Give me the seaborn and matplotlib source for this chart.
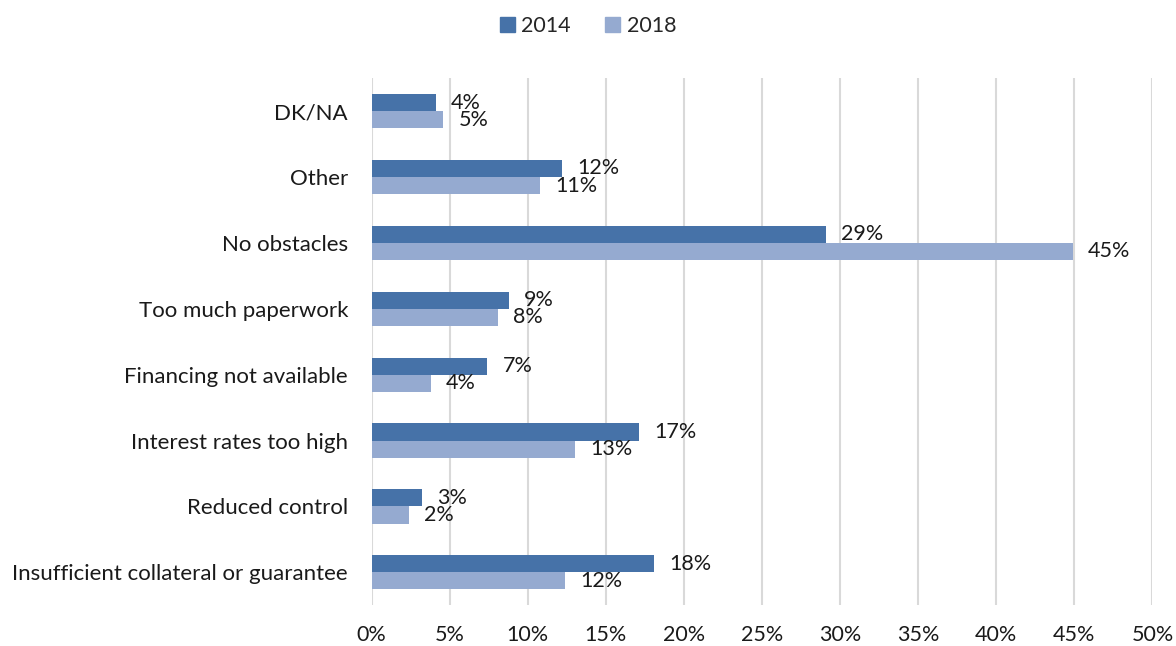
import matplotlib
matplotlib.use("Agg")
import matplotlib.pyplot as plt
import seaborn as sns
import pandas as pd

# data (bar lengths, in %)
categories = ["DK/NA", "Other", "No obstacles", "Too much paperwork",
              "Financing not available", "Interest rates too high",
              "Reduced control", "Insufficient collateral or guarantee"]
vals_2014 = [4.1, 12.2, 29.1, 8.8, 7.4, 17.1, 3.2, 18.1]
vals_2018 = [4.6, 10.8, 44.9, 8.1, 3.8, 13.0, 2.4, 12.4]
years = ["2014", "2018"]
xticks = [0, 5, 10, 15, 20, 25, 30, 35, 40, 45, 50]

df = pd.DataFrame({
    "category": categories * 2,
    "year": [years[0]] * len(categories) + [years[1]] * len(categories),
    "value": vals_2014 + vals_2018,
})

sns.set_theme(style="white")
plt.rcParams["font.family"] = ["Lato", "DejaVu Sans"]

fig = plt.figure(figsize=(11.76, 6.46), dpi=100)
ax = fig.add_axes([0.316, 0.063, 0.664, 0.816])

palette = {"2014": "#4672A8", "2018": "#95AAD0"}
sns.barplot(data=df, x="value", y="category", hue="year", order=categories,
            hue_order=years, palette=palette, orient="h", width=0.52,
            gap=0, saturation=1, linewidth=0, ax=ax, legend=False)

for cont in ax.containers:
    ax.bar_label(cont, labels=[f"{v:.0f}%" for v in cont.datavalues],
                 padding=11, fontsize=15.5, color="#1a1a1a")

ax.set_xlim(0, 50)
ax.set_ylim(7.5, -0.5)
ax.set_xticks(xticks)
ax.set_xticklabels([f"{t}%" for t in xticks], fontsize=15.5, color="#1a1a1a")
ax.tick_params(axis="y", labelsize=16, labelcolor="#1a1a1a", length=0, pad=17)
ax.tick_params(axis="x", length=0, pad=14)
ax.set_xlabel("")
ax.set_ylabel("")
ax.grid(axis="x", color="#D9D9D9", linewidth=1.5)
ax.set_axisbelow(True)
for s in ax.spines.values():
    s.set_visible(False)

handles = [plt.Rectangle((0, 0), 1, 1, color=palette[y]) for y in years]
fig.legend(handles, years, loc="upper center", bbox_to_anchor=(0.5, 1.005),
           ncol=2, frameon=False, fontsize=15.5, handlelength=0.7,
           handleheight=0.7, handletextpad=0.3, columnspacing=1.6)

fig.savefig("out.png", dpi=100)
